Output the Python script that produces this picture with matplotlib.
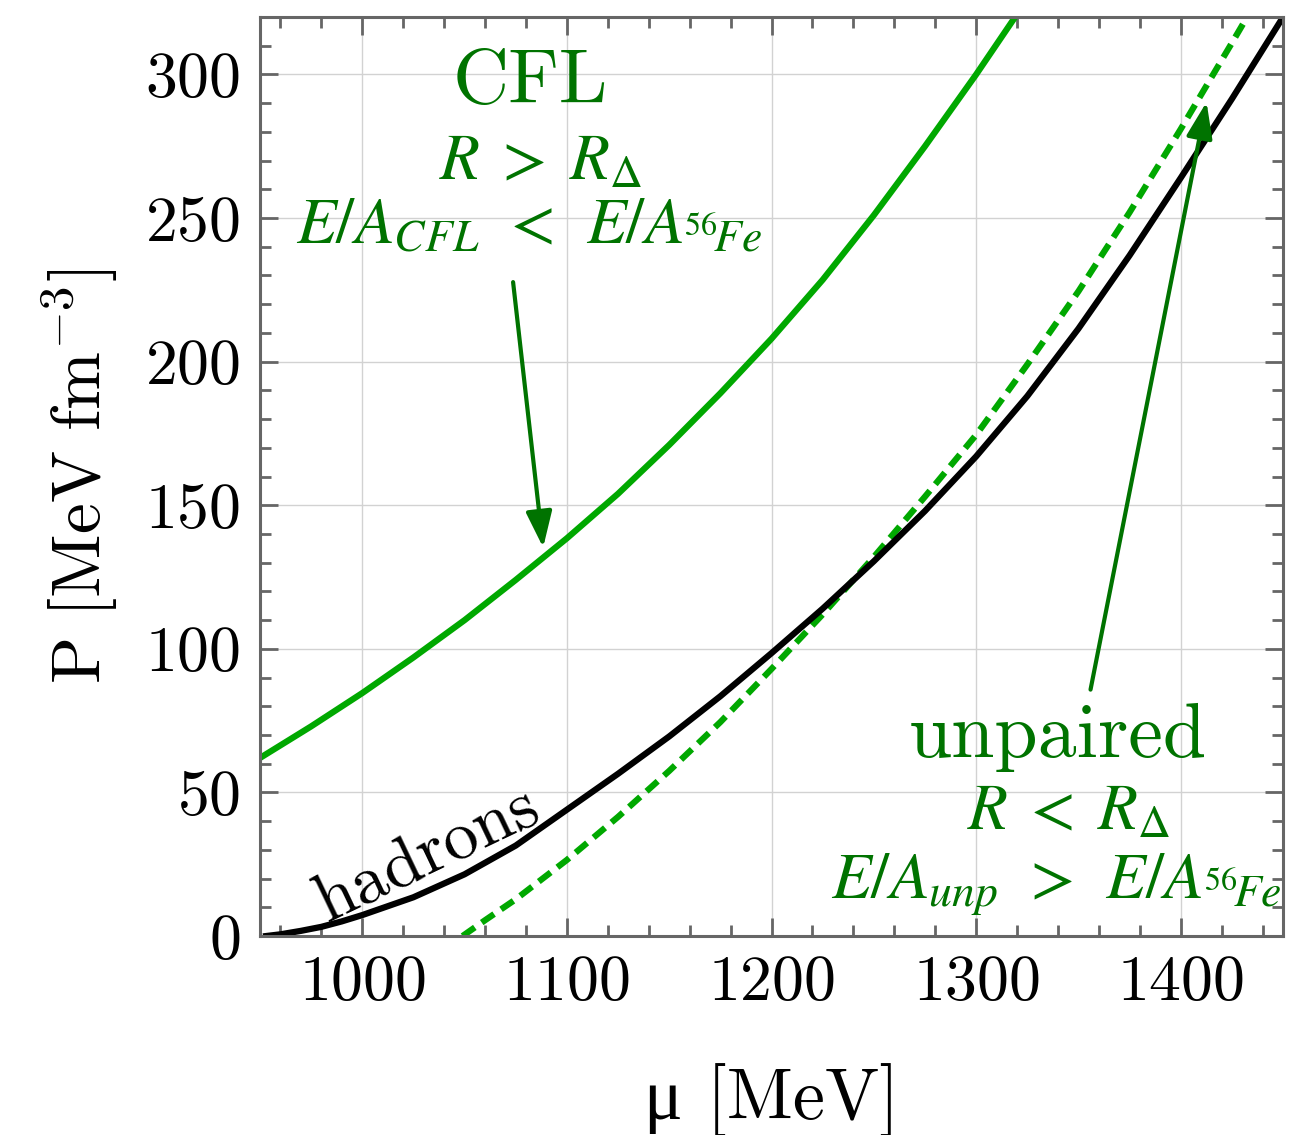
import matplotlib
matplotlib.use("Agg")
import matplotlib.pyplot as plt
from matplotlib.ticker import MultipleLocator

plt.rcParams['font.family'] = 'serif'
plt.rcParams['font.serif'] = ['cmr10']
plt.rcParams['mathtext.fontset'] = 'cm'
plt.rcParams['axes.formatter.use_mathtext'] = True

# ---- data ----
mu_had = [953, 960, 970, 980, 990, 1000, 1025, 1050, 1075, 1100, 1125, 1150, 1175,
          1200, 1225, 1250, 1275, 1300, 1325, 1350, 1375, 1400, 1425, 1450]
P_had = [0, 0.6, 1.8, 3.2, 5.1, 7.3, 13.5, 21.5, 31.5, 44, 56.5, 69.5, 83.5,
         98.5, 114, 130.5, 148, 167, 188, 211.5, 237, 264, 291.5, 320]

mu_unp = [1049, 1060, 1075, 1100, 1125, 1150, 1175, 1200, 1225, 1250, 1275,
          1300, 1325, 1350, 1375, 1400, 1425, 1432]
P_unp = [0, 5.5, 12.8, 26.5, 41.5, 57.5, 74.5, 93, 112, 132, 153,
         174.5, 199, 224.5, 252, 281, 311, 319.5]

mu_cfl = [950, 975, 1000, 1025, 1050, 1075, 1100, 1125, 1150, 1175, 1200,
          1225, 1250, 1275, 1300, 1320]
P_cfl = [62, 73, 84.6, 97, 110, 124, 138.5, 154, 171, 189, 208,
         228.5, 251, 275, 300, 321]

xticks = [1000, 1100, 1200, 1300, 1400]
yticks = [0, 50, 100, 150, 200, 250, 300]

green = '#00a800'
dgreen = '#007300'

fig = plt.figure(figsize=(13.11, 11.35), dpi=100)
ax = fig.add_axes([0.1983, 0.1753, 0.9787 - 0.1983, 0.985 - 0.1753])

ax.plot(mu_cfl, P_cfl, color=green, lw=4.5)
ax.plot(mu_unp, P_unp, color=green, lw=4.5, linestyle=(0, (2.4, 1.35)))
ax.plot(mu_had, P_had, color='black', lw=4.5)

ax.set_xlim(950, 1450)
ax.set_ylim(0, 320)
ax.set_xticks(xticks)
ax.set_yticks(yticks)
ax.xaxis.set_minor_locator(MultipleLocator(20))
ax.yaxis.set_minor_locator(MultipleLocator(10))
ax.grid(True, which='major', color='#d2d2d2', lw=1.0)
ax.set_axisbelow(True)

for s in ax.spines.values():
    s.set_color('#666666')
    s.set_linewidth(2.2)
ax.tick_params(which='both', direction='in', top=True, right=True,
               color='#666666', width=2.0, labelsize=46, pad=14)
ax.tick_params(which='major', length=13)
ax.tick_params(which='minor', length=8)

ax.set_xlabel('μ [MeV]', fontsize=52, labelpad=36, family=['cmr10', 'Liberation Serif'])
ax.set_ylabel(r'$\mathrm{P\ [MeV\ fm^{-3}]}$', fontsize=50, labelpad=18)

arrowkw = dict(arrowstyle='-|>,head_length=1.1,head_width=0.4', mutation_scale=20,
               color=dgreen, lw=3.0, shrinkA=0, shrinkB=0)
mkw = dict(color=dgreen, ha='center', va='baseline', math_fontfamily='stix')

# annotations
ax.text(1082, 290, 'CFL', color=dgreen, fontsize=56, ha='center', va='baseline')
ax.text(1087, 263.5, r'$R\;>\;R_{\Delta}$', fontsize=47, **mkw)
ax.text(1081.5, 241, r'$E/A_{CFL}\;\,<\;\,E/A_{{}^{56}\!Fe}$', fontsize=47, **mkw)
ax.annotate('', xy=(1088.4, 135.3), xytext=(1073.7, 227.7), arrowprops=arrowkw)

ax.text(1340, 62.4, 'unpaired', color=dgreen, fontsize=56, ha='center', va='baseline')
ax.text(1345, 37, r'$R\;<\;R_{\Delta}$', fontsize=47, **mkw)
ax.text(1339, 13.2, r'$E/A_{unp}\;\,>\;\,E/A_{{}^{56}\!Fe}$', fontsize=47, **mkw)
ax.annotate('', xy=(1412.6, 290.4), xytext=(1355.9, 85.8), arrowprops=arrowkw)

ax.text(1032, 28.2, 'hadrons', color='black', fontsize=50, ha='center', va='center',
        rotation=25.5, rotation_mode='anchor')

fig.savefig('out.png', dpi=100)
